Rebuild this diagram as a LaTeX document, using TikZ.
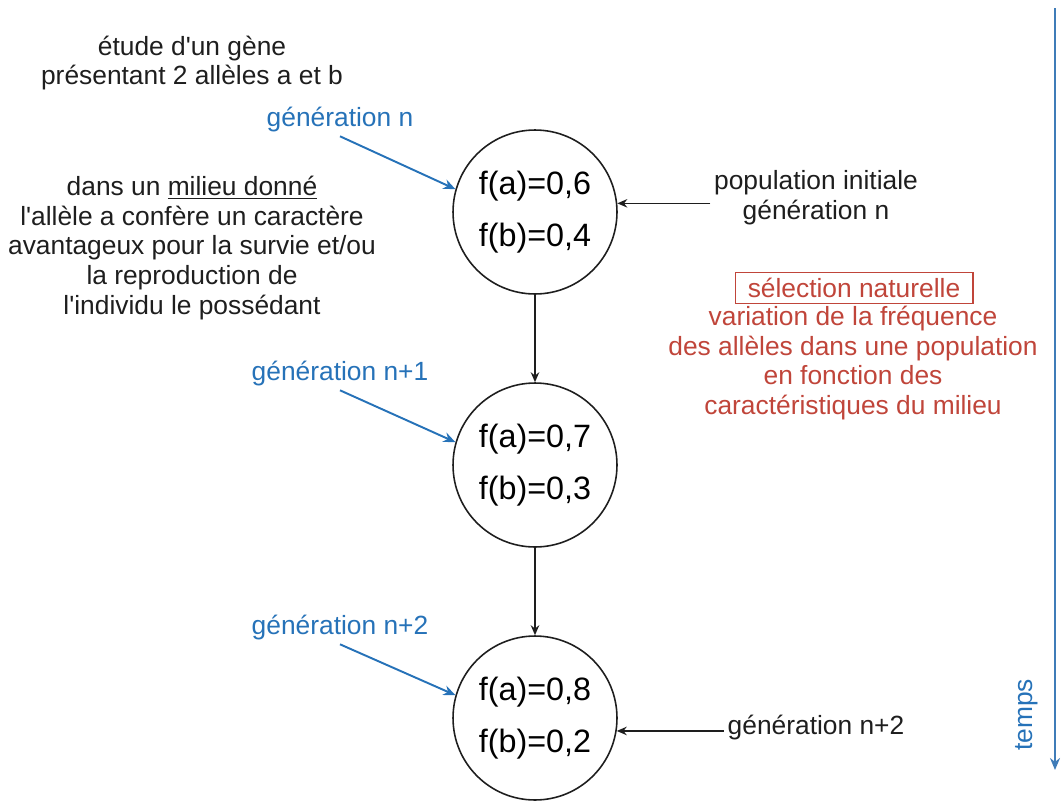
\documentclass[tikz,border=0pt]{standalone}
\usepackage{fontspec}
\setmainfont{Liberation Sans}[Ligatures=TeXOff]
\usetikzlibrary{arrows.meta}
\definecolor{ink}{HTML}{1E1E1E}
\definecolor{genblue}{HTML}{2672B8}
\definecolor{timeblue}{HTML}{3F7CB8}
\definecolor{selred}{HTML}{C0453A}

\begin{document}
\begin{tikzpicture}[x=0.02cm, y=-0.02cm,
	freq/.style={circle, draw=ink, line width=.9pt, minimum size=3.28cm, inner sep=0pt, align=center, font=\fontsize{18.4}{29.5}\selectfont},
	txt/.style={align=center, inner sep=2pt, text=ink, font=\fontsize{15}{17}\selectfont},
	gen/.style={txt, text=genblue},
	sel/.style={txt, text=selred},
	arr/.style={-{Stealth[length=.2cm, width=.17cm]}, line width=.8pt, draw=ink},
	bluearr/.style={-{Stealth[length=.24cm, width=.2cm]}, line width=1.1pt, draw=genblue},
	timearr/.style={-{Stealth[length=.24cm, width=.2cm]}, line width=1.1pt, draw=timeblue}]
	\useasboundingbox (0,0) rectangle (1061,801);

	% gene studied
	\node[txt] (gene) at (192,63) {étude d'un gène\\présentant 2 allèles a et b};
	\node[txt] (milieu) at (192,248) {dans un \underline{milieu donné}\\l'allèle a confère un caractère\\avantageux pour la survie et/ou\\la reproduction de\\l'individu le possédant};

	% generations
	\foreach \fa/\fb/\lab [count=\i] in {6/4/n, 7/3/n+1, 8/2/n+2}{
		\node[freq] (c\i) at (535,{212+(\i-1)*253}) {f(a)=0,\fa\\f(b)=0,\fb};
		\node[gen] (g\i) at (340,{120+(\i-1)*254}) {génération \lab};
		\draw[bluearr] (g\i.south) -- (c\i.164);
	}
	\draw[arr] (c1) -- (c2);
	\draw[arr] (c2) -- (c3);

	% right side labels
	\node[txt] (pop) at (816,198) {population initiale\\génération n};
	\draw[arr] (pop.west |- c1.6) -- (c1.6);
	\node[txt] (last) at (816,728) {génération n+2};
	\draw[arr] (last.west |- c3.-9) -- (c3.-9);

	% natural selection
	\node[sel, draw=selred, line width=.6pt, minimum width=4.76cm, minimum height=.62cm, inner sep=0pt] (selbox) at (854,288) {sélection naturelle};
	\node[sel] (seltxt) at (853,363) {variation de la fréquence\\des allèles dans une population\\en fonction des\\caractéristiques du milieu};

	% time axis
	\coordinate (t0) at (1055,8);
	\coordinate (t1) at (1055,770);
	\draw[timearr] (t0) -- (t1);
	\node[gen, rotate=90] (temps) at (1027,715) {temps};
\end{tikzpicture}
\end{document}
